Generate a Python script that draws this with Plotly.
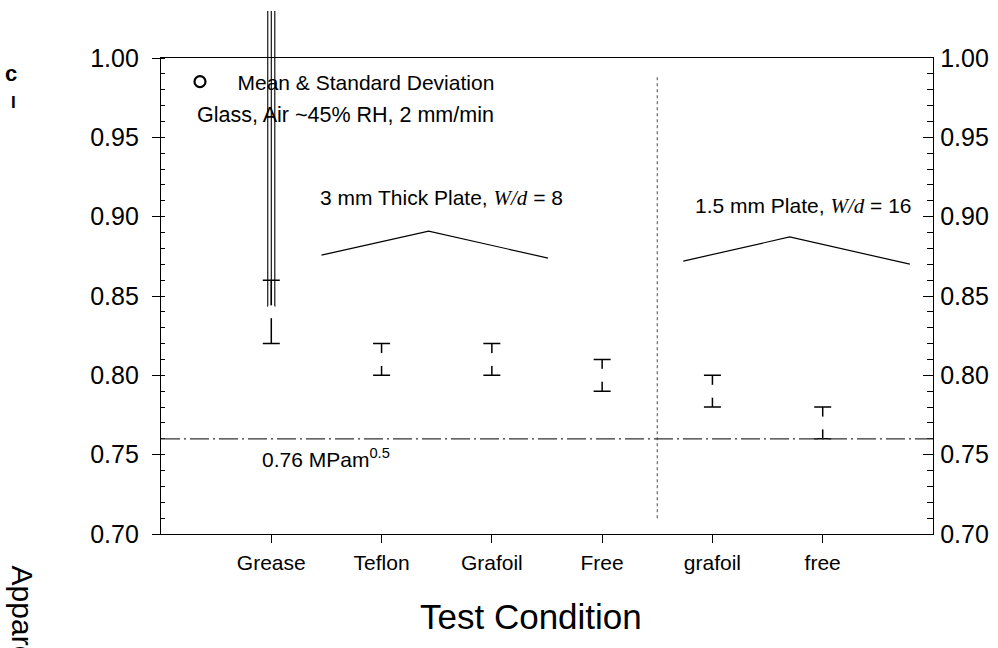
import plotly.graph_objects as go

# ---------------- data ----------------
categories = ["Grease", "Teflon", "Grafoil", "Free", "grafoil", "free"]
x_pos = [1, 2, 3, 4, 5, 6]
means = [0.84, 0.81, 0.81, 0.80, 0.79, 0.77]
sds = [0.02, 0.01, 0.01, 0.01, 0.01, 0.01]

reference_value = 0.76
separator_x = [4.5, 4.5]
separator_y = [0.71, 0.988]

bracket1_x = [1.455, 2.427, 3.509]
bracket1_y = [0.8758, 0.8909, 0.8739]
bracket2_x = [4.736, 5.70, 6.79]
bracket2_y = [0.872, 0.8872, 0.8701]

# stray triple line above the Grease bar (plot artefact in the original)
artefact_offsets = [-0.032, 0.0, 0.032]

y_range = [0.70, 1.00]
y_ticks = [0.70, 0.75, 0.80, 0.85, 0.90, 0.95, 1.00]
y_ticklabels = ["%.2f" % v for v in y_ticks]
x_range = [0, 7]

FONT = "Liberation Sans, Arial, sans-serif"
SERIF = "Liberation Serif, Times New Roman, serif"

fig = go.Figure()

# mean & SD (white marker hides middle of error bar)
fig.add_trace(go.Scatter(
    x=x_pos, y=means, mode="markers",
    marker=dict(symbol="circle", size=13, color="white", line=dict(width=0)),
    error_y=dict(type="data", array=sds, visible=True, color="black",
                 thickness=1.5, width=8.5),
    showlegend=False, hoverinfo="skip"))

# legend entry
fig.add_trace(go.Scatter(
    x=[None], y=[None], mode="markers",
    marker=dict(symbol="circle-open", size=11, color="black", line=dict(width=2.2)),
    name="\u00a0\u00a0\u00a0Mean & Standard Deviation", showlegend=True))

# brackets
for bx, by in [(bracket1_x, bracket1_y), (bracket2_x, bracket2_y)]:
    fig.add_trace(go.Scatter(x=bx, y=by, mode="lines",
                             line=dict(color="black", width=1.2),
                             showlegend=False, hoverinfo="skip"))

# separator (dotted)
fig.add_trace(go.Scatter(x=separator_x, y=separator_y, mode="lines",
                         line=dict(color="#666666", width=1.2, dash="dot"),
                         showlegend=False, hoverinfo="skip"))

# dummy trace for right axis
fig.add_trace(go.Scatter(x=[None], y=[None], yaxis="y2", showlegend=False))

shapes = []
# reference line 0.76
shapes.append(dict(type="line", xref="x domain", yref="y", x0=0, x1=1,
                   y0=reference_value, y1=reference_value,
                   line=dict(color="#333333", width=1.3, dash="19px,4px,2px,4px")))
# artefact lines above grease
for off in artefact_offsets:
    shapes.append(dict(type="line", xref="x", yref="y", layer="below",
                       x0=x_pos[0] + off, x1=x_pos[0] + off,
                       y0=means[0], y1=y_range[1],
                       line=dict(color="black", width=1.1)))
    shapes.append(dict(type="line", xref="x", yref="paper",
                       x0=x_pos[0] + off, x1=x_pos[0] + off,
                       y0=1.0, y1=1.099,
                       line=dict(color="black", width=1.1)))

annotations = [
    dict(x=2.54, y=0.912, xref="x", yref="y", showarrow=False,
         text="3 mm Thick Plate, <span style='font-family:%s'><i>W/d</i></span> = 8" % SERIF,
         font=dict(size=21, color="black", family=FONT)),
    dict(x=5.83, y=0.9067, xref="x", yref="y", showarrow=False,
         text="1.5 mm Plate, <span style='font-family:%s'><i>W/d</i></span> = 16" % SERIF,
         font=dict(size=21, color="black", family=FONT)),
    dict(x=1.67, y=0.964, xref="x", yref="y", showarrow=False,
         text="Glass, Air ~45% RH, 2 mm/min",
         font=dict(size=21.5, color="black", family=FONT)),
    dict(x=0.9, y=0.748, xref="x", yref="y", showarrow=False, xanchor="left",
         text="0.76 MPam<sup>0.5</sup>",
         font=dict(size=21, color="black", family=FONT)),
    # x-axis title
    dict(x=0.479, y=-0.174, xref="paper", yref="paper", showarrow=False,
         xanchor="center", yanchor="middle",
         text="Test Condition", font=dict(size=35, color="black", family=FONT)),
    # y-axis title (rotated, runs off the page)
    dict(x=-0.2095, y=-0.0627, xref="paper", yref="paper", showarrow=False,
         xanchor="left", yanchor="top", textangle=90,
         text="Apparent Fracture Toughness, K<sub>Ic</sub> (MPam<sup>0.5</sup>)",
         font=dict(size=30, color="black", family=FONT)),
    # clipped sub/superscript fragments at the top-left page edge
    dict(x=-0.1845, y=0.9675, xref="paper", yref="paper", showarrow=False,
         xanchor="right", yanchor="middle",
         text="<b>c</b>", font=dict(size=22, color="black", family=FONT)),
    dict(x=-0.185, y=0.9055, xref="paper", yref="paper", showarrow=False,
         xanchor="right", yanchor="middle",
         text="<b>I</b>", font=dict(size=17, color="black", family=FONT)),
]

axis_common = dict(showgrid=False, zeroline=False, showline=True,
                   linecolor="black", linewidth=1.3, tickcolor="black",
                   tickwidth=1.3, automargin=False)

fig.update_layout(
    width=998, height=648,
    margin=dict(l=161, r=65, t=58, b=114, pad=0),
    paper_bgcolor="white", plot_bgcolor="white",
    font=dict(family=FONT, color="black"),
    showlegend=True,
    legend=dict(x=0.0246, y=0.9496, xanchor="left", yanchor="middle",
                bgcolor="rgba(0,0,0,0)", font=dict(size=21, family=FONT),
                itemwidth=30),
    xaxis=dict(range=x_range, tickmode="array", tickvals=x_pos, ticktext=categories,
               ticks="outside", ticklen=8, mirror=True, ticklabelstandoff=2,
               tickfont=dict(size=21, family=FONT),
               **axis_common),
    yaxis=dict(range=y_range, tickmode="array", tickvals=y_ticks, ticktext=y_ticklabels,
               ticks="outside", ticklen=8, ticklabelstandoff=8,
               tickfont=dict(size=25, family=FONT),
               minor=dict(ticks="inside", ticklen=4, dtick=0.01, tick0=0.70,
                          tickcolor="black", tickwidth=1.2, showgrid=False),
               **axis_common),
    yaxis2=dict(range=y_range, overlaying="y", side="right", tickmode="array",
                tickvals=y_ticks, ticktext=y_ticklabels,
                ticks="inside", ticklen=10, ticklabelstandoff=1,
                tickfont=dict(size=25, family=FONT),
                minor=dict(ticks="inside", ticklen=6, dtick=0.01, tick0=0.70,
                           tickcolor="black", tickwidth=1.2, showgrid=False),
                **axis_common),
    shapes=shapes,
    annotations=annotations,
)

fig.write_html("out.html")
